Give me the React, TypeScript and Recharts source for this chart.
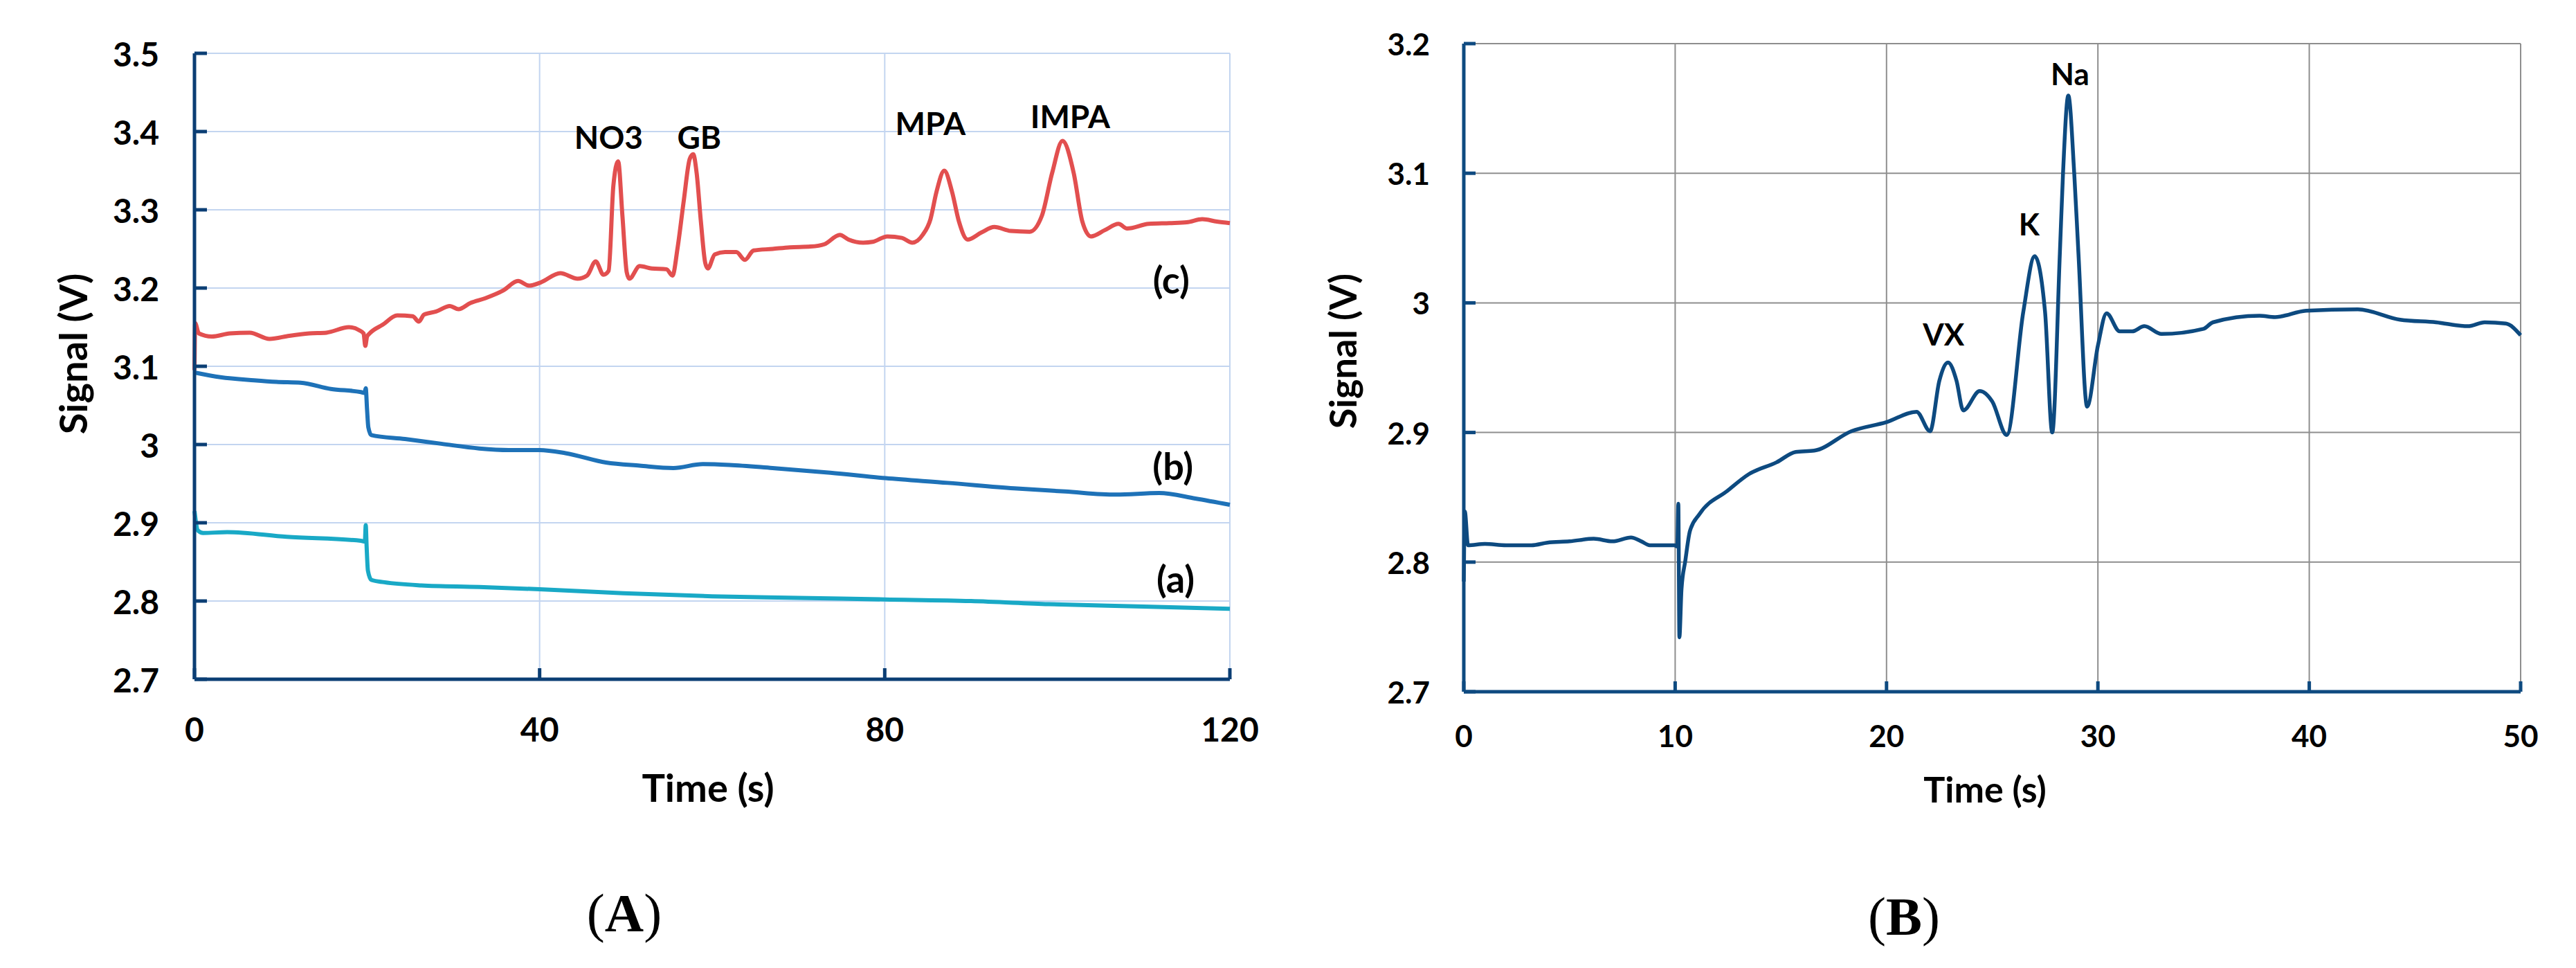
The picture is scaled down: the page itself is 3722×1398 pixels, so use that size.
import React from "react";
import { LineChart, Line, XAxis, YAxis, CartesianGrid, ReferenceDot } from "recharts";

// ---- panel A : traces (a), (b), (c) over 0-120 s
const timeC = [0, 0.08, 0.5, 2, 4.1, 6.4, 8.7, 11, 13.3, 15.3, 17.9, 19.1, 19.6, 19.8, 20.0, 20.3, 21.8, 23.5, 25.3, 26.0, 26.6, 28, 29.6, 30.6, 32, 33.7, 35.8, 37.5, 38.8, 40.1, 42.4, 44.4, 45.5, 46.5, 47.4, 48.0, 48.55, 49.1, 49.6, 50.1, 50.4, 51.6, 53, 54.7, 55.4, 56.0, 56.7, 57.4, 57.8, 58.2, 58.7, 59.2, 59.5, 60.3, 61.5, 62.8, 63.8, 64.8, 67, 69, 71.4, 73, 74.8, 75.8, 77.5, 78.6, 80.3, 82, 83.2, 84.4, 85.3, 86.0, 86.9, 87.8, 88.6, 89.6, 91.2, 92.7, 94.6, 96.8, 98.2, 99.4, 100.6, 101.9, 102.9, 103.9, 105.5, 107.1, 108.1, 110.6, 113, 115, 116.8, 118.5, 120];
const signalC = [3.095, 3.155, 3.142, 3.138, 3.142, 3.143, 3.135, 3.139, 3.142, 3.143, 3.150, 3.146, 3.142, 3.126, 3.138, 3.142, 3.153, 3.165, 3.164, 3.157, 3.166, 3.170, 3.177, 3.173, 3.181, 3.187, 3.197, 3.209, 3.203, 3.207, 3.219, 3.212, 3.216, 3.234, 3.217, 3.222, 3.331, 3.362, 3.292, 3.220, 3.212, 3.228, 3.225, 3.224, 3.216, 3.252, 3.311, 3.365, 3.371, 3.347, 3.284, 3.232, 3.225, 3.243, 3.246, 3.246, 3.236, 3.248, 3.250, 3.252, 3.253, 3.256, 3.268, 3.262, 3.258, 3.259, 3.266, 3.264, 3.258, 3.268, 3.288, 3.323, 3.350, 3.323, 3.285, 3.262, 3.271, 3.278, 3.273, 3.272, 3.292, 3.347, 3.388, 3.347, 3.285, 3.266, 3.274, 3.282, 3.276, 3.282, 3.283, 3.284, 3.288, 3.285, 3.283];

const timeB = [0, 3, 6.9, 9.5, 12.3, 15.8, 19.3, 19.7, 19.85, 20.0, 20.15, 20.5, 24.4, 28.6, 33, 36.4, 40, 43, 47.7, 51.6, 55.5, 58.9, 62, 67, 73.7, 80.1, 87.3, 95, 100.9, 106.8, 111.8, 116, 120];
const signalB = [3.092, 3.086, 3.082, 3.080, 3.079, 3.071, 3.067, 3.066, 3.072, 3.045, 3.022, 3.012, 3.007, 3.001, 2.995, 2.993, 2.993, 2.989, 2.977, 2.973, 2.970, 2.975, 2.974, 2.970, 2.964, 2.957, 2.951, 2.944, 2.940, 2.936, 2.938, 2.931, 2.923];

const timeA = [0, 0.4, 1, 3.8, 10.7, 19.3, 19.75, 19.85, 19.95, 20.1, 20.5, 22, 26.3, 33, 40, 49.7, 60, 70, 80, 90, 99, 110, 120];
const signalA = [2.915, 2.890, 2.887, 2.888, 2.882, 2.877, 2.876, 2.897, 2.870, 2.839, 2.827, 2.824, 2.820, 2.818, 2.815, 2.810, 2.806, 2.804, 2.802, 2.800, 2.796, 2.793, 2.790];

const xTicksA = [0, 40, 80, 120];
const yTicksA = [2.7, 2.8, 2.9, 3, 3.1, 3.2, 3.3, 3.4, 3.5];
const notesA = [
  { text: "NO3", t: 48.0, v: 3.393 },
  { text: "GB", t: 58.5, v: 3.393 },
  { text: "MPA", t: 85.3, v: 3.411 },
  { text: "IMPA", t: 101.5, v: 3.42 },
  { text: "(c)", t: 113.2, v: 3.211 },
  { text: "(b)", t: 113.4, v: 2.973 },
  { text: "(a)", t: 113.7, v: 2.829 },
];

// ---- panel B : VX trace over 0-50 s
const timeVX = [0, 0.05, 0.2, 1.0, 2.0, 3.2, 3.95, 5.0, 6.15, 7.03, 7.91, 8.4, 8.8, 9.97, 10.1, 10.15, 10.2, 10.3, 10.48, 10.7, 11.15, 12.47, 13.5, 14.8, 15.7, 16.58, 18.34, 20.0, 21.42, 22.06, 22.5, 22.91, 23.31, 23.63, 24.41, 25.0, 25.69, 26.47, 27.01, 27.5, 27.84, 28.2, 28.35, 28.6, 28.88, 29.08, 29.49, 30.0, 30.41, 31.03, 31.62, 32.2, 33.01, 35.0, 35.44, 37.65, 38.38, 39.85, 42.3, 44.3, 46.0, 47.5, 48.3, 49.3, 50];
const signalVX = [2.785, 2.839, 2.813, 2.814, 2.813, 2.813, 2.815, 2.816, 2.818, 2.816, 2.819, 2.816, 2.813, 2.813, 2.812, 2.845, 2.742, 2.779, 2.801, 2.824, 2.837, 2.855, 2.868, 2.877, 2.885, 2.886, 2.901, 2.908, 2.916, 2.901, 2.940, 2.954, 2.940, 2.917, 2.932, 2.924, 2.898, 2.993, 3.036, 2.993, 2.900, 3.038, 3.100, 3.160, 3.100, 3.038, 2.920, 2.967, 2.992, 2.978, 2.978, 2.982, 2.976, 2.980, 2.985, 2.990, 2.989, 2.994, 2.995, 2.987, 2.985, 2.982, 2.985, 2.984, 2.975];

const xTicksB = [0, 10, 20, 30, 40, 50];
const yTicksB = [2.7, 2.8, 2.9, 3, 3.1, 3.2];
const notesB = [
  { text: "VX", t: 22.7, v: 2.976 },
  { text: "K", t: 26.75, v: 3.061 },
  { text: "Na", t: 28.68, v: 3.177 },
];

const zip = (ts: number[], vs: number[]) => ts.map((t, i) => ({ t, v: vs[i] }));

const FONT = "Lato, 'Open Sans', sans-serif";
const AXIS_A = "#0b3e74";
const GRID_A = "#c3d5f0";
const AXIS_B = "#0e4a80";
const GRID_B = "#8e8e8e";
const LINE_B = "#0d4a80";

const fmt = (v: number) => String(Number(v.toFixed(1)));

function yTick(len: number, stroke: string, size: number, gap: number) {
  return (props: any) => {
    const { x, y, payload } = props;
    return (
      <g>
        <line x1={x} x2={x + len} y1={y} y2={y} stroke={stroke} strokeWidth={5} />
        <text x={x - gap} y={y} textAnchor="end" dominantBaseline="central" fontFamily={FONT} fontWeight={700} fontSize={size} fill="#000">
          {fmt(payload.value)}
        </text>
      </g>
    );
  };
}

function xTick(len: number, stroke: string, size: number, gap: number) {
  return (props: any) => {
    const { x, y, payload } = props;
    return (
      <g>
        <line x1={x} x2={x} y1={y} y2={y - len} stroke={stroke} strokeWidth={5} />
        <text x={x} y={y + gap} textAnchor="middle" dominantBaseline="central" fontFamily={FONT} fontWeight={700} fontSize={size} fill="#000">
          {payload.value}
        </text>
      </g>
    );
  };
}

function note(text: string, size: number) {
  return (p: any) => (
    <text x={p.cx} y={p.cy} textAnchor="middle" dominantBaseline="central" fontFamily={FONT} fontWeight={700} fontSize={size} fill="#000">
      {text}
    </text>
  );
}

const title = (text: string, cx: number, cy: number, size: number, rotate = false) => (
  <div
    style={{
      position: "absolute",
      left: cx,
      top: cy,
      transform: `translate(-50%, -50%)${rotate ? " rotate(-90deg)" : ""}`,
      fontFamily: FONT,
      fontWeight: 700,
      fontSize: size,
      whiteSpace: "nowrap",
      lineHeight: 1,
      color: "#000",
    }}
  >
    {text}
  </div>
);

const panelLabel = (letter: string, cx: number, cy: number) => (
  <div
    style={{
      position: "absolute",
      left: cx,
      top: cy,
      transform: "translate(-50%, -50%)",
      fontFamily: "'Liberation Serif', serif",
      fontSize: 78,
      lineHeight: 1,
      whiteSpace: "nowrap",
    }}
  >
    (<b>{letter}</b>)
  </div>
);

export default function App() {
  return (
    <div style={{ position: "absolute", left: 0, top: 0, width: 3722, height: 1398, background: "#fff", overflow: "hidden" }}>
      {/* A */}
      <div style={{ position: "absolute", left: 0, top: 0 }}>
        <LineChart width={1900} height={1100} margin={{ top: 77, right: 123, bottom: 0, left: 0 }}>
          <CartesianGrid stroke={GRID_A} strokeWidth={2} />
          <XAxis
            type="number"
            dataKey="t"
            domain={[0, 120]}
            ticks={xTicksA}
            interval={0}
            height={119}
            tickSize={0}
            tickMargin={0}
            tickLine={false}
            axisLine={{ stroke: AXIS_A, strokeWidth: 5 }}
            tick={xTick(16, AXIS_A, 48, 71)}
          />
          <YAxis
            type="number"
            domain={[2.7, 3.5]}
            ticks={yTicksA}
            interval={0}
            width={281}
            tickSize={0}
            tickMargin={0}
            tickLine={false}
            axisLine={{ stroke: AXIS_A, strokeWidth: 5 }}
            tick={yTick(18, AXIS_A, 48, 51)}
          />
          <Line data={zip(timeA, signalA)} dataKey="v" type="monotone" stroke="#19a9c6" strokeWidth={6} dot={false} activeDot={false} isAnimationActive={false} />
          <Line data={zip(timeB, signalB)} dataKey="v" type="monotone" stroke="#1e72b8" strokeWidth={6} dot={false} activeDot={false} isAnimationActive={false} />
          <Line data={zip(timeC, signalC)} dataKey="v" type="monotone" stroke="#e24f4f" strokeWidth={6} dot={false} activeDot={false} isAnimationActive={false} />
          {notesA.map((n) => (
            <ReferenceDot key={n.text} x={n.t} y={n.v} r={0} shape={note(n.text, n.text.startsWith("(") ? 54 : 46)} />
          ))}
        </LineChart>
      </div>
      {title("Time (s)", 1023, 1137, 56)}
      {title("Signal (V)", 105, 511, 56, true)}
      {panelLabel("A", 902, 1319)}

      {/* B */}
      <div style={{ position: "absolute", left: 1700, top: 0 }}>
        <LineChart width={2022} height={1100} margin={{ top: 63, right: 80, bottom: 0, left: 0 }}>
          <CartesianGrid stroke={GRID_B} strokeWidth={2} />
          <XAxis
            type="number"
            dataKey="t"
            domain={[0, 50]}
            ticks={xTicksB}
            interval={0}
            height={101}
            tickSize={0}
            tickMargin={0}
            tickLine={false}
            axisLine={{ stroke: AXIS_B, strokeWidth: 5 }}
            tick={xTick(15, AXIS_B, 44, 63)}
          />
          <YAxis
            type="number"
            domain={[2.7, 3.2]}
            ticks={yTicksB}
            interval={0}
            width={415}
            tickSize={0}
            tickMargin={0}
            tickLine={false}
            axisLine={{ stroke: AXIS_B, strokeWidth: 5 }}
            tick={yTick(17, AXIS_B, 44, 49)}
          />
          <Line data={zip(timeVX, signalVX)} dataKey="v" type="monotone" stroke={LINE_B} strokeWidth={5.5} dot={false} activeDot={false} isAnimationActive={false} />
          {notesB.map((n) => (
            <ReferenceDot key={n.text} x={n.t} y={n.v} r={0} shape={note(n.text, 44)} />
          ))}
        </LineChart>
      </div>
      {title("Time (s)", 2868, 1139, 52)}
      {title("Signal (V)", 1940, 507, 54, true)}
      {panelLabel("B", 2751, 1324)}
    </div>
  );
}
